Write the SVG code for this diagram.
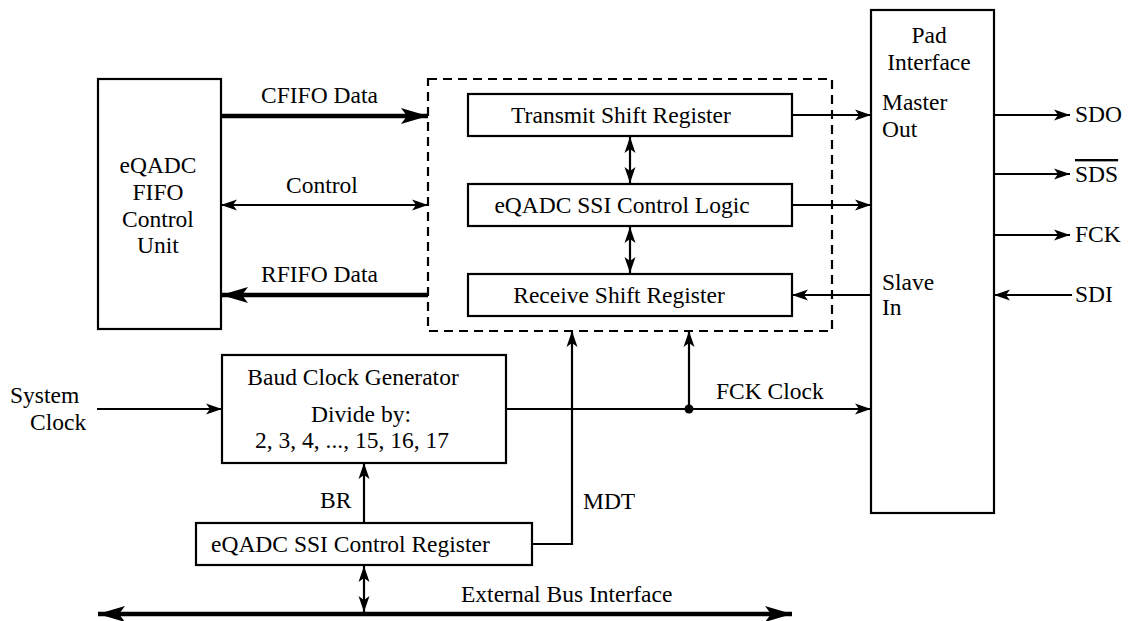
<svg xmlns="http://www.w3.org/2000/svg" width="1132" height="621" viewBox="0 0 1132 621">
<style>
text{font-family:'Liberation Serif','DejaVu Serif',serif;font-size:23.5px;fill:#000}
.box{fill:#fff;stroke:#000;stroke-width:2.2}
.dash{fill:none;stroke:#000;stroke-width:2.2;stroke-dasharray:9 6}
.ln{fill:none;stroke:#000;stroke-width:2.2}
.thk{fill:none;stroke:#000;stroke-width:4.5}
.mid{text-anchor:middle}
</style>
<defs>
<marker id="a" markerUnits="userSpaceOnUse" markerWidth="17" markerHeight="12" refX="16" refY="6" orient="auto-start-reverse"><path d="M0,0.5 L16,6 L0,11.5 L4,6 z" fill="#000"/></marker>
<marker id="A" markerUnits="userSpaceOnUse" markerWidth="28" markerHeight="18" refX="27" refY="9" orient="auto-start-reverse"><path d="M0,1 L27,9 L0,17 L6,9 z" fill="#000"/></marker>
</defs>
<g id="fifo"><rect class="box" x="98" y="79" width="123" height="250"/>
<text class="mid" x="158" y="173">eQADC</text><text class="mid" x="158" y="200">FIFO</text><text class="mid" x="158" y="227">Control</text><text class="mid" x="158" y="253">Unit</text></g>
<g id="ssi"><rect class="dash" x="428" y="79" width="404" height="252"/></g>
<g id="tsr"><rect class="box" x="468" y="94" width="324" height="42"/><text class="mid" x="621" y="123">Transmit Shift Register</text></g>
<g id="logic"><rect class="box" x="468" y="184" width="324" height="42"/><text class="mid" x="622" y="213">eQADC SSI Control Logic</text></g>
<g id="rsr"><rect class="box" x="468" y="274" width="324" height="42"/><text class="mid" x="619" y="303">Receive Shift Register</text></g>
<g id="pad"><rect class="box" x="871" y="10" width="123" height="503"/>
<text class="mid" x="929" y="43">Pad</text><text class="mid" x="929" y="70">Interface</text>
<text x="882" y="110">Master</text><text x="882" y="137">Out</text>
<text x="882" y="290">Slave</text><text x="882" y="315">In</text></g>
<g id="baud"><rect class="box" x="222" y="355" width="284" height="108"/>
<text class="mid" x="353" y="385">Baud Clock Generator</text><text class="mid" x="361" y="422">Divide by:</text><text class="mid" x="352" y="448">2, 3, 4, ..., 15, 16, 17</text></g>
<g id="creg"><rect class="box" x="196" y="523" width="336" height="42"/><text x="211" y="552">eQADC SSI Control Register</text></g>
<g id="labels">
<text x="261" y="103">CFIFO Data</text>
<text class="mid" x="322" y="193">Control</text>
<text x="261" y="282">RFIFO Data</text>
<text x="1075" y="122">SDO</text>
<text x="1075" y="182" style="text-decoration:overline">SDS</text>
<text x="1075" y="242">FCK</text>
<text x="1075" y="302">SDI</text>
<text x="10" y="403">System</text><text x="30" y="430">Clock</text>
<text x="716" y="399">FCK Clock</text>
<text x="583" y="509">MDT</text>
<text x="320" y="508">BR</text>
<text x="461" y="602">External Bus Interface</text>
</g>
<g id="connectors">
<path class="thk" d="M221,116 L428,116" marker-end="url(#A)"/>
<path class="ln" d="M221,205 L428,205" marker-start="url(#a)" marker-end="url(#a)"/>
<path class="thk" d="M428,295 L221,295" marker-end="url(#A)"/>
<path class="ln" d="M792,115 L871,115" marker-end="url(#a)"/>
<path class="ln" d="M792,205 L871,205" marker-end="url(#a)"/>
<path class="ln" d="M871,295 L792,295" marker-end="url(#a)"/>
<path class="ln" d="M630,137 L630,183" marker-start="url(#a)" marker-end="url(#a)"/>
<path class="ln" d="M630,227 L630,273" marker-start="url(#a)" marker-end="url(#a)"/>
<path class="ln" d="M994,115 L1070,115" marker-end="url(#a)"/>
<path class="ln" d="M994,174 L1070,174" marker-end="url(#a)"/>
<path class="ln" d="M994,235 L1070,235" marker-end="url(#a)"/>
<path class="ln" d="M1072,295 L994,295" marker-end="url(#a)"/>
<path class="ln" d="M97,409 L222,409" marker-end="url(#a)"/>
<path class="ln" d="M506,409 L871,409" marker-end="url(#a)"/>
<circle cx="689" cy="409" r="4.5" fill="#000"/>
<path class="ln" d="M689,409 L689,331" marker-end="url(#a)"/>
<path class="ln" d="M532,544 L572,544 L572,331" marker-end="url(#a)"/>
<path class="ln" d="M364,523 L364,463" marker-end="url(#a)"/>
<path class="ln" d="M364,566 L364,612" marker-start="url(#a)" marker-end="url(#a)"/>
<path class="thk" d="M98,614 L792,614" marker-start="url(#A)" marker-end="url(#A)"/>
</g>
</svg>
